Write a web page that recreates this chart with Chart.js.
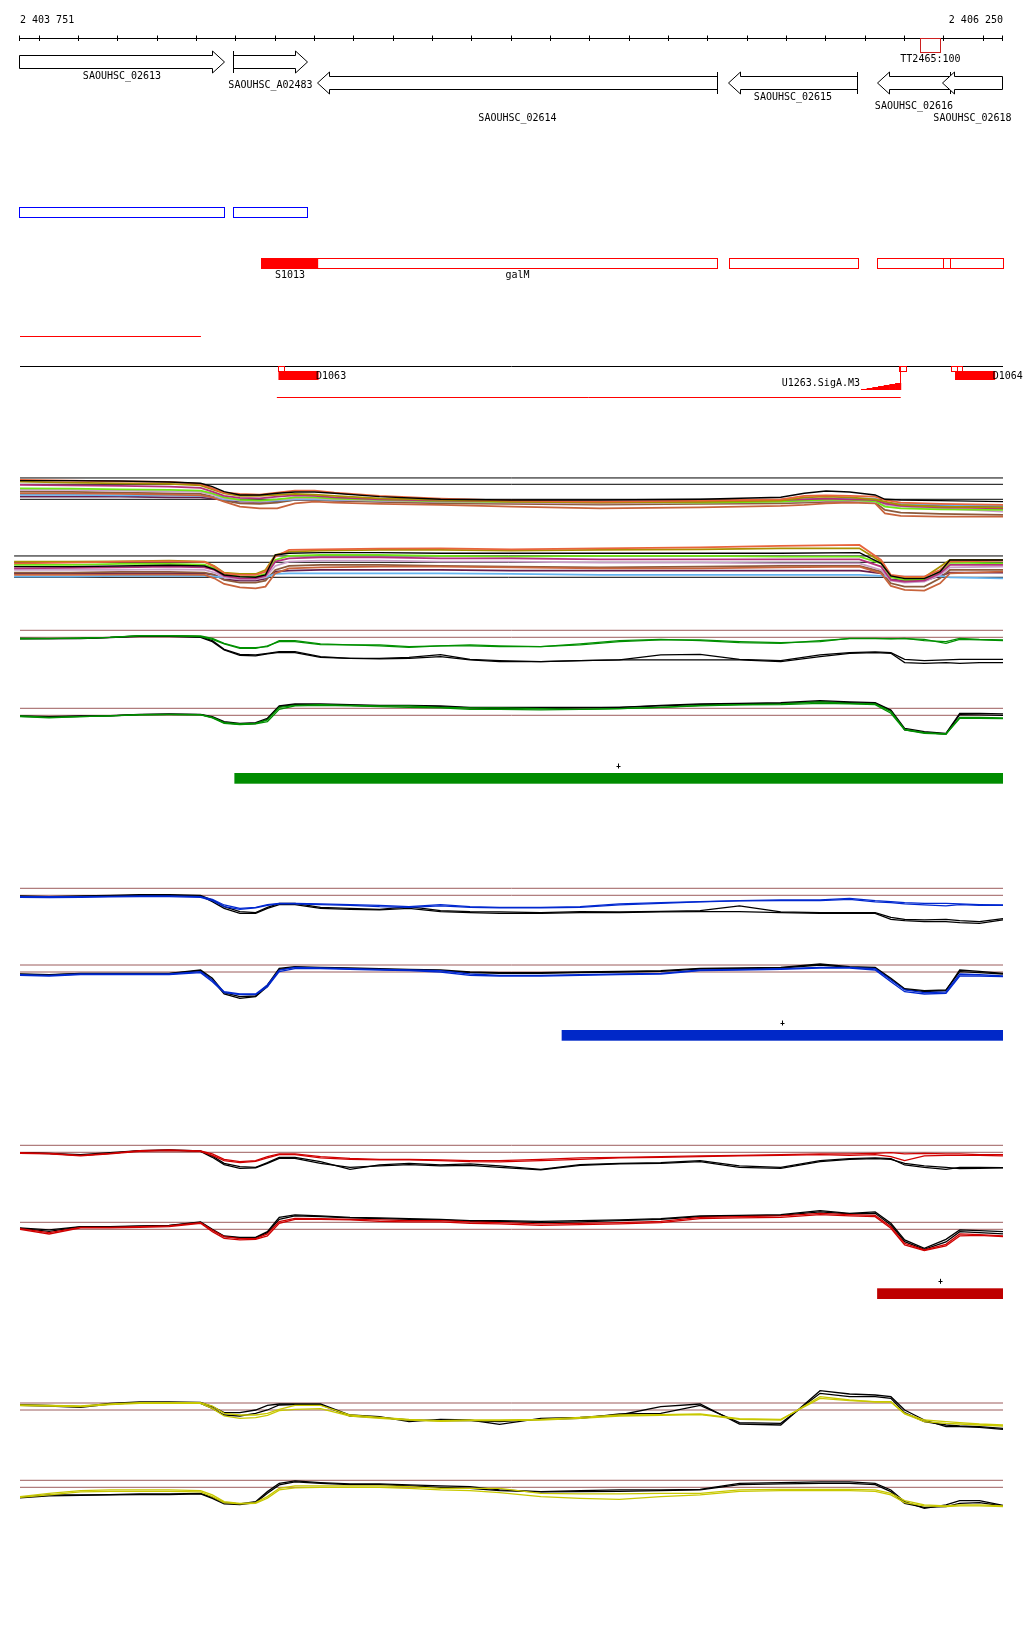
<!DOCTYPE html>
<html>
<head>
<meta charset="utf-8">
<script src="https://cdn.jsdelivr.net/npm/chart.js@4.4.1/dist/chart.umd.min.js"></script>
<style>
html, body { margin: 0; padding: 0; background: #fff; }
canvas { display: block; }
</style>
</head>
<body>
<canvas id="browser" width="1024" height="1640"></canvas>
<script>
// genome window shown
var viewStart = 2403751, viewEnd = 2406250;
var rulerLabels = ['2 403 751', '2 406 250'];

// gene models
var geneNames  = ['SAOUHSC_02613', 'SAOUHSC_A02483', 'SAOUHSC_02614', 'SAOUHSC_02615', 'SAOUHSC_02616', 'SAOUHSC_02618'];
var geneStart  = [2403700, 2404293, 2404508, 2405553, 2405930, 2406097];
var geneEnd    = [2404272, 2404483, 2405524, 2405880, 2406117, 2406300];
var geneStrand = ['+', '+', '-', '-', '-', '-'];

// terminator
var termName = 'TT2465:100', termStart = 2406040, termEnd = 2406091;

// CDS (blue) and transcripts (red)
var cdsStart = [2403700, 2404293];
var cdsEnd   = [2404271, 2404482];
var txStart  = [2404366, 2405554, 2405931, 2406098];
var txEnd    = [2405524, 2405881, 2406117, 2406300];
var utrStart = 2404366, utrEnd = 2404509;
var utrLabel = 'S1013', galLabel = 'galM';

// regulatory features
var regStart = 2403700, regEnd = 2404211;
var tssStart = [2404408, 2405986, 2406120, 2406134];
var tssEnd   = [2404424, 2406003, 2406134, 2406147];
var blockNames = ['D1063', 'D1064'];
var blockStart = [2404408, 2406128];
var blockEnd   = [2404510, 2406230];
var promName = 'U1263.SigA.M3', promStart = 2405889, promEnd = 2405990;
var spanStart = 2404404, spanEnd = 2405990;

// condition segments (green / blue / red bars)
var segStart  = [2404296, 2405128, 2405930];
var segEnd    = [2406250, 2406250, 2406250];
var segColors = ['#008c00', '#0028c8', '#be0000'];

// probe positions
var posA1 = [2403751, 2403880, 2404005, 2404130, 2404210, 2404240, 2404270, 2404310, 2404360, 2404405, 2404450, 2404500, 2404550, 2404665, 2404820, 2405000, 2405225, 2405480, 2405685, 2405745, 2405800, 2405860, 2405925, 2405950, 2405990, 2406090, 2406250];
var posA2 = [2403736, 2403880, 2404005, 2404130, 2404220, 2404245, 2404270, 2404310, 2404350, 2404375, 2404400, 2404435, 2404515, 2404665, 2404820, 2405000, 2405225, 2405480, 2405685, 2405885, 2405940, 2405965, 2406000, 2406050, 2406090, 2406115, 2406250];
var pos = [2403751, 2403825, 2403905, 2403980, 2404055, 2404130, 2404210, 2404240, 2404270, 2404310, 2404350, 2404380, 2404410, 2404450, 2404515, 2404590, 2404665, 2404740, 2404820, 2404895, 2404970, 2405075, 2405175, 2405275, 2405380, 2405480, 2405580, 2405685, 2405785, 2405860, 2405925, 2405965, 2406000, 2406050, 2406105, 2406140, 2406190, 2406250];

// reference levels
var refA = [0, 45, 64];
var refLevels = [0, 21];

// all conditions, two strands
var bundleColors = ['#e8643c', '#a89000', '#b4307c', '#6ee614', '#c8a0c8', '#c8643c', '#64b4f0', '#8c5a3c', '#641e50'];
var allTopBlack = [56, 56, 55, 52, 48, 38, 23, 13, 13, 18, 22, 22, 18, 8, 0, -2, -2, 0, 6, 18, 25, 22, 13, 0, -2, -4, -7];
var allTop = [
  [58, 56, 54, 52, 46, 33, 20, 16, 14, 20, 26, 26, 20, 10, 2, -4, -7, -4, 0, 10, 12, 10, 8, -2, -10, -14, -17],
  [53, 50, 48, 46, 42, 30, 18, 10, 10, 13, 16, 14, 10, 3, -2, -7, -10, -8, -4, 6, 8, 6, 0, -7, -17, -22, -24],
  [43, 42, 40, 38, 34, 23, 10, 4, 3, 8, 12, 10, 6, 0, -4, -6, -7, -6, -2, 0, 2, 0, -2, -12, -20, -24, -27],
  [33, 32, 30, 28, 26, 18, 6, -2, -4, 0, 6, 6, 2, -2, -6, -8, -8, -10, -7, -4, -2, -2, -6, -22, -27, -30, -32],
  [28, 28, 26, 24, 22, 14, 3, -4, -6, -2, 3, 3, 0, -4, -8, -10, -12, -10, -8, -6, -4, -4, -8, -17, -22, -27, -37],
  [18, 18, 16, 14, 12, 6, -7, -22, -27, -27, -12, -7, -10, -14, -17, -22, -27, -24, -20, -17, -12, -10, -12, -42, -50, -52, -52],
  [13, 13, 12, 12, 10, 6, 0, -4, -6, -4, 0, 0, -2, -4, -6, -8, -8, -6, -2, 0, 2, 3, 2, -10, -14, -17, -20],
  [23, 22, 20, 18, 16, 8, -4, -12, -14, -10, -2, -2, -4, -8, -12, -14, -16, -14, -12, -10, -8, -7, -10, -32, -40, -44, -47],
  [8, 8, 8, 6, 6, 2, -2, -7, -8, -6, -2, -2, -4, -6, -8, -10, -10, -8, -6, -4, -2, -2, -4, -14, -17, -20, -22]
];
var allBotBlack = [32, 32, 34, 36, 34, 24, 7, 2, 0, 7, 67, 72, 74, 74, 72, 72, 72, 72, 72, 74, 42, 4, -4, -4, 17, 52, 52];
var allBot = [
  [42, 44, 47, 48, 46, 32, 12, 7, 7, 17, 62, 82, 84, 86, 87, 84, 87, 90, 94, 97, 52, 7, 2, 2, 22, 47, 50],
  [47, 47, 48, 50, 47, 34, 14, 10, 10, 22, 67, 77, 80, 82, 82, 80, 82, 84, 87, 87, 47, 4, 0, 0, 32, 52, 52],
  [27, 28, 30, 32, 30, 22, 4, -3, -3, 4, 47, 57, 60, 60, 57, 57, 54, 54, 54, 54, 32, -8, -13, -10, 12, 37, 37],
  [37, 37, 40, 40, 38, 27, 10, 2, 2, 10, 52, 64, 67, 67, 64, 62, 64, 64, 62, 62, 42, 0, -8, -8, 17, 44, 42],
  [22, 22, 22, 24, 22, 14, 0, -6, -6, 0, 34, 47, 50, 50, 47, 47, 44, 44, 42, 42, 22, -10, -16, -13, 7, 30, 32],
  [7, 7, 8, 8, 7, -3, -20, -30, -33, -28, 12, 27, 30, 32, 32, 30, 27, 27, 30, 32, 12, -26, -38, -40, -18, 12, 17],
  [2, 2, 4, 4, 4, 2, 0, -2, -2, 0, 10, 12, 12, 12, 12, 10, 7, 7, 7, 7, 4, 2, 2, 2, 4, 0, -3],
  [14, 14, 16, 16, 14, 7, -8, -16, -16, -10, 22, 34, 37, 37, 34, 32, 30, 32, 34, 34, 17, -18, -28, -28, -3, 22, 22],
  [12, 12, 12, 12, 12, 7, -6, -10, -10, -4, 17, 20, 22, 22, 22, 20, 20, 20, 20, 20, 12, -6, -10, -10, 4, 14, 14]
];

// green condition
var greenTopA  = [-3, -3, -3, 0, 5, 5, 4, -3, -18, -31, -31, -28, -10, -10, -20, -23, -23, -28, -26, -23, -26, -28, -23, -13, -8, -8, -13, -16, -13, -3, -3, -5, -3, -10, -13, -3, -6, -8];
var greenTopB  = [-5, -4, -2, 0, 4, 4, 2, -6, -20, -33, -33, -26, -13, -13, -22, -23, -26, -30, -26, -26, -28, -28, -20, -10, -6, -10, -16, -18, -10, -4, -4, -4, -4, -6, -18, -6, -8, -10];
var greenTopK1 = [-3, -4, -3, 0, 4, 4, 2, -10, -36, -51, -53, -48, -43, -43, -58, -63, -63, -60, -52, -66, -70, -73, -70, -68, -53, -51, -66, -70, -53, -46, -44, -46, -66, -70, -68, -66, -66, -66];
var greenTopK2 = [-5, -4, -4, -1, 3, 3, 0, -13, -38, -54, -56, -50, -45, -46, -60, -63, -65, -63, -58, -68, -73, -73, -70, -68, -68, -68, -68, -73, -58, -48, -46, -48, -76, -78, -76, -78, -76, -76];
var greenBotA  = [-2, -6, -4, -2, 2, 3, 2, -6, -22, -26, -24, -14, 24, 30, 32, 30, 28, 28, 24, 22, 22, 20, 18, 20, 24, 30, 32, 34, 40, 36, 34, 11, -42, -52, -56, -6, -6, -8];
var greenBotB  = [-4, -8, -4, -2, 1, 2, 1, -8, -24, -28, -26, -19, 18, 28, 30, 28, 26, 24, 22, 18, 18, 16, 18, 20, 24, 28, 31, 32, 36, 34, 32, 6, -44, -54, -56, -9, -9, -10];
var greenBotK1 = [-2, -4, -2, -1, 3, 4, 3, -4, -19, -24, -22, -9, 28, 34, 34, 32, 30, 30, 28, 24, 24, 24, 24, 24, 30, 34, 36, 38, 44, 40, 38, 16, -39, -49, -54, 6, 6, 4];
var greenBotK2 = [-3, -5, -3, -2, 2, 3, 2, -6, -22, -27, -25, -12, 26, 32, 32, 30, 28, 28, 26, 22, 20, 20, 22, 24, 28, 32, 34, 36, 41, 38, 36, 14, -44, -52, -56, 2, 1, 0];

// blue condition
var blueTopA  = [-4, -4, -4, -3, -2, -2, -4, -12, -29, -39, -36, -28, -24, -24, -26, -28, -30, -34, -28, -34, -36, -36, -34, -26, -22, -19, -16, -14, -14, -9, -16, -19, -22, -24, -24, -26, -28, -29];
var blueTopB  = [-6, -7, -6, -5, -4, -4, -6, -16, -34, -42, -38, -30, -26, -26, -28, -30, -34, -36, -32, -36, -38, -38, -36, -29, -24, -20, -17, -16, -16, -12, -20, -22, -26, -29, -32, -28, -30, -30];
var blueTopK1 = [-2, -4, -2, 0, 2, 2, 0, -14, -34, -49, -52, -36, -24, -24, -36, -39, -42, -34, -46, -49, -50, -52, -49, -50, -48, -46, -32, -50, -52, -52, -52, -66, -72, -74, -72, -76, -79, -70];
var blueTopK2 = [-4, -6, -4, -2, 0, 0, -2, -19, -39, -54, -54, -39, -28, -28, -39, -42, -44, -39, -49, -52, -54, -54, -52, -52, -50, -49, -49, -52, -54, -54, -54, -72, -76, -79, -79, -82, -84, -74];
var blueBotA  = [-8, -10, -6, -6, -6, -6, 1, -24, -59, -66, -66, -39, 6, 14, 12, 10, 8, 6, 4, -6, -10, -10, -8, -6, -4, 6, 8, 10, 14, 14, 10, -24, -54, -62, -60, -6, -8, -12];
var blueBotB  = [-10, -12, -8, -8, -8, -8, -2, -29, -62, -68, -68, -44, 1, 10, 10, 8, 6, 4, 0, -10, -12, -12, -10, -8, -6, 4, 6, 8, 12, 12, 6, -29, -59, -66, -64, -12, -12, -14];
var blueBotK1 = [-6, -8, -4, -4, -4, -4, 6, -19, -62, -74, -72, -39, 11, 16, 14, 12, 10, 8, 6, 0, -2, -2, 0, 2, 4, 11, 12, 14, 24, 16, 14, -19, -50, -56, -54, 1, -2, -6];
var blueBotK2 = [-7, -9, -5, -5, -5, -5, 4, -24, -66, -79, -74, -44, 8, 14, 12, 10, 8, 6, 4, -2, -4, -4, -2, 0, 2, 9, 10, 12, 21, 14, 12, -22, -52, -59, -56, 6, 2, -4];

// red condition
var redTopA  = [-1, -3, -9, -3, 5, 7, 4, -5, -21, -28, -25, -13, -5, -5, -13, -18, -21, -21, -23, -25, -25, -21, -17, -15, -13, -11, -9, -7, -5, -5, -3, -1, -5, -3, -5, -5, -7, -7];
var redTopB  = [-3, -5, -11, -5, 3, 5, 3, -9, -25, -31, -27, -17, -7, -7, -17, -21, -23, -23, -25, -28, -29, -25, -21, -17, -15, -13, -11, -9, -7, -9, -7, -13, -25, -11, -9, -9, -9, -11];
var redTopK1 = [-1, -3, -7, -1, 5, 7, 4, -11, -33, -43, -45, -31, -15, -15, -28, -51, -38, -33, -38, -35, -41, -51, -37, -33, -31, -25, -41, -45, -25, -19, -17, -19, -38, -45, -51, -45, -45, -46];
var redTopK2 = [-2, -4, -9, -3, 4, 6, 3, -15, -37, -48, -47, -33, -18, -18, -33, -45, -41, -37, -41, -39, -45, -53, -39, -35, -33, -28, -45, -48, -28, -21, -19, -21, -33, -41, -45, -49, -48, -47];
var redBotA  = [2, -10, 6, 6, 8, 10, 20, -2, -22, -28, -28, -14, 23, 33, 32, 30, 28, 26, 26, 22, 20, 16, 18, 20, 24, 36, 38, 40, 48, 44, 42, 8, -42, -62, -45, -14, -16, -20];
var redBotB  = [0, -14, 4, 4, 6, 8, 18, -7, -27, -32, -30, -20, 18, 30, 30, 28, 24, 22, 22, 18, 16, 12, 14, 16, 20, 32, 34, 36, 44, 40, 38, 3, -47, -64, -50, -20, -18, -22];
var redBotK1 = [4, -2, 8, 8, 10, 12, 22, 0, -20, -24, -24, -7, 36, 43, 40, 36, 34, 32, 30, 26, 26, 24, 26, 28, 32, 40, 42, 44, 56, 48, 52, 18, -32, -57, -30, -2, -4, -7];
var redBotK2 = [3, -6, 7, 7, 9, 11, 21, -2, -22, -26, -26, -10, 30, 40, 38, 34, 32, 30, 28, 24, 24, 20, 22, 26, 30, 38, 40, 42, 52, 46, 48, 13, -37, -60, -38, -7, -10, -14];

// yellow condition
var yellowTopA  = [15, 14, 12, 18, 22, 22, 22, 12, -10, -15, -15, -10, 2, 14, 14, -15, -22, -28, -32, -30, -30, -28, -22, -15, -14, -12, -26, -28, 35, 28, 25, 25, -10, -30, -35, -38, -42, -45];
var yellowTopB  = [13, 12, 10, 16, 20, 20, 20, 5, -18, -25, -23, -16, -2, 2, 4, -18, -25, -30, -34, -32, -32, -30, -25, -18, -16, -14, -28, -30, 40, 30, 24, 24, -12, -35, -40, -42, -45, -48];
var yellowTopK1 = [16, 14, 10, 20, 24, 24, 23, 10, -8, -8, 0, 14, 18, 18, 18, -15, -20, -35, -28, -30, -43, -25, -22, -15, 10, 18, -42, -45, 58, 48, 45, 40, 0, -30, -50, -50, -52, -58];
var yellowTopK2 = [14, 12, 8, 18, 22, 22, 20, 5, -15, -18, -10, 0, 15, 16, 16, -18, -22, -30, -32, -32, -35, -28, -25, -12, -10, 14, -38, -40, 50, 40, 40, 35, -8, -35, -45, -48, -50, -55];
var yellowBotA  = [-28, -18, -10, -8, -8, -8, -10, -23, -43, -48, -46, -28, -3, 4, 4, 4, 4, 2, -3, -3, -3, -18, -20, -20, -18, -18, -8, -6, -6, -6, -8, -18, -40, -53, -56, -53, -53, -56];
var yellowBotB  = [-30, -23, -14, -12, -12, -12, -14, -28, -46, -50, -48, -33, -8, -2, 0, 0, 0, -3, -8, -10, -16, -28, -33, -36, -28, -23, -12, -10, -10, -10, -12, -23, -46, -56, -58, -56, -56, -58];
var yellowBotK1 = [-30, -23, -23, -22, -20, -20, -18, -30, -46, -50, -43, -13, 12, 19, 14, 10, 10, 7, 4, 2, -8, -13, -10, -8, -8, -6, 12, 14, 16, 16, 12, -8, -43, -63, -53, -40, -40, -54];
var yellowBotK2 = [-32, -26, -24, -23, -22, -22, -20, -33, -50, -52, -46, -18, 7, 16, 12, 8, 8, 4, 0, -3, -10, -14, -13, -12, -10, -8, 8, 10, 12, 12, 8, -13, -48, -60, -58, -48, -46, -56];

// ---- layout ----
var H = 1640;
var pxPerBp = 983 / 2499;
var unitsPerPx = 3;
var panelBase = { yA1: 499.3, yA2: 577.3, yB1: 637.3, yB2: 715.3, yC1: 895.3, yC2: 972, yD1: 1152.3, yD2: 1229.3, yE1: 1410, yE2: 1487.3 };
var rowY = [62, 83];
var geneRow = [0, 0, 1, 1, 1, 1];
var labelDy = [14, 23, 35, 14.5, 23.5, 35];
var segBarTop = [773, 1030, 1288.3];
var refColor = '#9c5c5c';

function series(xs, ys) {
  return xs.map(function (x, i) { return { x: x, y: ys[i] }; });
}

function lineSet(xs, ys, color, axis, width) {
  return {
    data: series(xs, ys),
    borderColor: color,
    borderWidth: width || 1,
    yAxisID: axis,
    pointRadius: 0,
    tension: 0,
    fill: false
  };
}

var datasets = [];

// all-conditions panel
datasets.push(lineSet(posA1, allTopBlack, '#000000', 'yA1', 1.4));
allTop.forEach(function (ys, i) { datasets.push(lineSet(posA1, ys, bundleColors[i], 'yA1', 1.8)); });
datasets.push(lineSet(posA2, allBotBlack, '#000000', 'yA2', 1.4));
allBot.forEach(function (ys, i) { datasets.push(lineSet(posA2, ys, bundleColors[i], 'yA2', 1.8)); });

// condition panels
var conditions = [
  { color: '#009000', top: [greenTopA, greenTopB, greenTopK1, greenTopK2], bot: [greenBotA, greenBotB, greenBotK1, greenBotK2], ax: ['yB1', 'yB2'] },
  { color: '#0028d0', top: [blueTopA, blueTopB, blueTopK1, blueTopK2], bot: [blueBotA, blueBotB, blueBotK1, blueBotK2], ax: ['yC1', 'yC2'] },
  { color: '#d00000', top: [redTopA, redTopB, redTopK1, redTopK2], bot: [redBotA, redBotB, redBotK1, redBotK2], ax: ['yD1', 'yD2'] },
  { color: '#c8c800', top: [yellowTopA, yellowTopB, yellowTopK1, yellowTopK2], bot: [yellowBotA, yellowBotB, yellowBotK1, yellowBotK2], ax: ['yE1', 'yE2'] }
];
conditions.forEach(function (c) {
  [c.top, c.bot].forEach(function (set, j) {
    datasets.push(lineSet(pos, set[0], c.color, c.ax[j], 1.3));
    datasets.push(lineSet(pos, set[1], c.color, c.ax[j], 1.3));
    datasets.push(lineSet(pos, set[2], '#000000', c.ax[j], 1.3));
    datasets.push(lineSet(pos, set[3], '#000000', c.ax[j], 1.3));
  });
});

// reference levels (drawn underneath)
refA.forEach(function (lvl) {
  datasets.push(lineSet([viewStart, viewEnd], [lvl, lvl], '#000000', 'yA1'));
  datasets.push(lineSet([posA2[0], viewEnd], [lvl, lvl], '#000000', 'yA2'));
});
['yB1', 'yB2', 'yC1', 'yC2', 'yD1', 'yD2', 'yE1', 'yE2'].forEach(function (ax) {
  refLevels.forEach(function (lvl) {
    datasets.push(lineSet([viewStart, viewEnd], [lvl, lvl], refColor, ax));
  });
});

var xMin = viewStart - 20 / pxPerBp;
var scales = {
  x: { type: 'linear', display: false, min: xMin, max: xMin + 1024 / pxPerBp }
};
Object.keys(panelBase).forEach(function (key) {
  var base = panelBase[key];
  scales[key] = { type: 'linear', display: false, min: -(H - base) * unitsPerPx, max: base * unitsPerPx };
});

function snap(v) { return Math.round(v - 0.5) + 0.5; }

var trackPlugin = {
  id: 'tracks',
  afterDatasetsDraw: function (chart) {
    var ctx = chart.ctx;
    var xs = chart.scales.x;
    var L = xs.getPixelForValue(viewStart), R = xs.getPixelForValue(viewEnd);
    function px(bp) { return Math.min(R, Math.max(L, xs.getPixelForValue(bp))); }
    function hline(a, b, y) { ctx.beginPath(); ctx.moveTo(a, y); ctx.lineTo(b, y); ctx.stroke(); }
    function vline(x, a, b) { ctx.beginPath(); ctx.moveTo(x, a); ctx.lineTo(x, b); ctx.stroke(); }
    function box(a, b, top, bottom) { ctx.strokeRect(snap(a), snap(top), Math.round(b - a), Math.round(bottom - top)); }

    ctx.save();
    ctx.font = '10px "DejaVu Sans Mono", monospace';
    ctx.textBaseline = 'middle';
    ctx.lineWidth = 1;
    ctx.strokeStyle = '#000';
    ctx.fillStyle = '#000';

    // ruler
    hline(L, R, 38.5);
    var ticks = [viewStart];
    for (var t = 2403800; t < viewEnd; t += 100) ticks.push(t);
    ticks.push(viewEnd);
    ticks.forEach(function (t) { vline(snap(xs.getPixelForValue(t)), 35.5, 41); });
    ctx.textAlign = 'left';
    ctx.fillText(rulerLabels[0], L, 20.5);
    ctx.textAlign = 'right';
    ctx.fillText(rulerLabels[1], R, 20.5);

    // terminator
    ctx.strokeStyle = '#cc2020';
    box(px(termStart), px(termEnd), 38, 52);
    ctx.textAlign = 'center';
    ctx.fillText(termName, (px(termStart) + px(termEnd)) / 2, 59);

    // genes
    ctx.strokeStyle = '#000';
    geneNames.forEach(function (name, i) {
      var a = snap(px(geneStart[i])), b = snap(px(geneEnd[i]));
      var cy = rowY[geneRow[i]];
      var fwd = geneStrand[i] === '+';
      var head = Math.min(12, b - a);
      ctx.beginPath();
      if (fwd) {
        var h = b - head;
        ctx.moveTo(a, cy - 6.5); ctx.lineTo(h, cy - 6.5); ctx.lineTo(h, cy - 11);
        ctx.lineTo(b, cy); ctx.lineTo(h, cy + 11); ctx.lineTo(h, cy + 6.5); ctx.lineTo(a, cy + 6.5);
      } else {
        var h2 = a + head;
        ctx.moveTo(b, cy - 6.5); ctx.lineTo(h2, cy - 6.5); ctx.lineTo(h2, cy - 11);
        ctx.lineTo(a, cy); ctx.lineTo(h2, cy + 11); ctx.lineTo(h2, cy + 6.5); ctx.lineTo(b, cy + 6.5);
      }
      ctx.closePath();
      ctx.fillStyle = '#fff';
      ctx.fill();
      ctx.stroke();
      if (fwd && geneStart[i] > viewStart) vline(a, cy - 11, cy + 11);
      if (!fwd && geneEnd[i] < viewEnd) vline(b, cy - 11, cy + 11);
      ctx.fillStyle = '#000';
      ctx.textAlign = 'center';
      ctx.fillText(name, (a + b) / 2, cy + labelDy[i]);
    });

    // CDS boxes
    ctx.strokeStyle = '#0000ff';
    cdsStart.forEach(function (s, i) { box(px(s), px(cdsEnd[i]), 207, 217); });

    // transcripts
    ctx.strokeStyle = '#ff0000';
    ctx.fillStyle = '#ff0000';
    ctx.fillRect(px(utrStart), 258.5, px(utrEnd) - px(utrStart), 10);
    txStart.forEach(function (s, i) { box(px(s), px(txEnd[i]), 258, 268); });
    ctx.fillStyle = '#000';
    ctx.textAlign = 'center';
    ctx.fillText(utrLabel, (px(utrStart) + px(utrEnd)) / 2, 275);
    ctx.fillText(galLabel, (px(geneStart[2]) + px(geneEnd[2])) / 2, 275);

    // regulatory region line
    ctx.strokeStyle = '#ff0000';
    hline(px(regStart), px(regEnd), 336.5);

    // sequence line and features
    ctx.strokeStyle = '#000';
    hline(L, R, 366.5);
    ctx.strokeStyle = '#ff0000';
    ctx.fillStyle = '#fff';
    tssStart.forEach(function (s, i) {
      ctx.fillRect(px(s), 367, px(tssEnd[i]) - px(s), 3.5);
      box(px(s), px(tssEnd[i]), 366, 370.5);
    });
    blockNames.forEach(function (name, i) {
      var a = px(blockStart[i]), b = px(blockEnd[i]);
      ctx.fillStyle = '#ff0000';
      ctx.fillRect(a, 371, b - a, 9);
      ctx.fillStyle = '#000';
      ctx.textAlign = 'left';
      ctx.fillText(name, b - 2.5, 376);
    });

    // promoter
    var pa = px(promStart), pb = px(promEnd);
    ctx.fillStyle = '#ff0000';
    var steps = 7, w = (pb - pa) / steps;
    for (var k = 0; k < steps; k++) {
      var hh = 1 + k;
      ctx.fillRect(pa + k * w, 390 - hh, w + 0.5, hh);
    }
    ctx.strokeStyle = '#ff0000';
    vline(snap(pb), 366.5, 390);
    ctx.fillStyle = '#000';
    ctx.textAlign = 'right';
    ctx.fillText(promName, pa - 1, 383);
    ctx.strokeStyle = '#ff0000';
    hline(px(spanStart), px(spanEnd), 397.5);

    // condition segments
    segStart.forEach(function (s, i) {
      var a = px(s), b = px(segEnd[i]);
      ctx.fillStyle = segColors[i];
      ctx.fillRect(a, segBarTop[i], b - a, 10.7);
      var cx = snap((a + b) / 2), cy = segBarTop[i] - 7;
      ctx.strokeStyle = '#000';
      hline(cx - 2, cx + 2, snap(cy));
      vline(cx, cy - 2.5, cy + 2.5);
    });

    ctx.restore();
  }
};

new Chart(document.getElementById('browser'), {
  type: 'line',
  data: { datasets: datasets },
  options: {
    responsive: false,
    devicePixelRatio: 1,
    animation: false,
    layout: { padding: 0 },
    plugins: { legend: { display: false }, tooltip: { enabled: false } },
    elements: { point: { radius: 0 } },
    scales: scales
  },
  plugins: [trackPlugin]
});
</script>
</body>
</html>
